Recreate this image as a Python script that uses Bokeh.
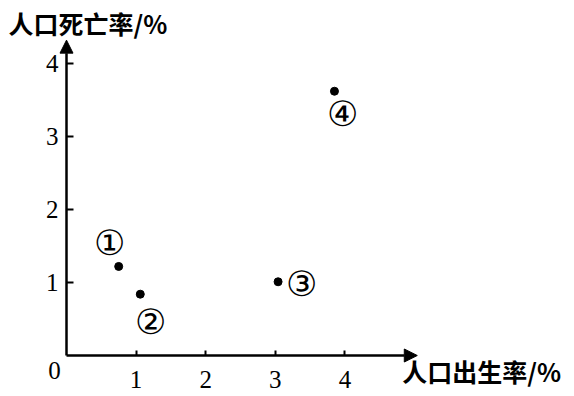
from bokeh.plotting import figure
from bokeh.models import Arrow, NormalHead, Label, LabelSet, ColumnDataSource, FixedTicker
from bokeh.embed import file_html
from bokeh.resources import INLINE

# ---- data ----
birth_rate = [0.75, 1.06, 3.04, 3.85]   # 人口出生率 /%
death_rate = [1.22, 0.84, 1.01, 3.62]   # 人口死亡率 /%
region_marks = ["①", "②", "③", "④"]
x_ticks = [1, 2, 3, 4]
y_ticks = [1, 2, 3, 4]
x_tick_labels = ["1", "2", "3", "4"]
y_tick_labels = ["1", "2", "3", "4"]
origin_label = "0"
x_title = "人口出生率/%"
y_title = "人口死亡率/%"

# ---- layout / style ----
W, H = 574, 396
PX_X, PX_Y = 69.6, 73.0          # pixels per unit
OX, OY = 66, 41                  # origin: px from left, px from bottom
X_TIP, Y_TIP = 5.04, 4.32        # arrow tips (data units)
mark_dx = [-9, 10, 23, 8]
mark_dy = [23, -28, -3, -23]
CJK = "Noto Sans CJK SC"
SERIF = "Liberation Serif"

p = figure(width=W, height=H,
           x_range=(-OX / PX_X, (W - OX) / PX_X),
           y_range=(-OY / PX_Y, (H - OY) / PX_Y),
           output_backend="svg", toolbar_location=None)
p.min_border = 0
p.outline_line_color = None
p.xgrid.visible = False
p.ygrid.visible = False
p.background_fill_color = "white"
p.border_fill_color = "white"

for ax, ticks, labels, tin, stand in ((p.xaxis[0], x_ticks, x_tick_labels, 5, 15),
                                      (p.yaxis[0], y_ticks, y_tick_labels, 7, 8)):
    ax.fixed_location = 0
    ax.ticker = FixedTicker(ticks=ticks)
    ax.major_label_overrides = {t: s for t, s in zip(ticks, labels)}
    ax.axis_line_color = None
    ax.major_tick_in = tin
    ax.major_tick_out = 0
    ax.major_tick_line_width = 2
    ax.major_tick_line_color = "black"
    ax.minor_tick_line_color = None
    ax.major_label_text_font = SERIF
    ax.major_label_text_font_size = "25px"
    ax.major_label_text_color = "black"
    ax.major_label_standoff = stand

# axis arrows
for xe, ye in ((X_TIP, 0), (0, Y_TIP)):
    p.add_layout(Arrow(end=NormalHead(size=13, fill_color="black", line_color="black"),
                       x_start=0, y_start=0, x_end=xe, y_end=ye,
                       line_width=2.5, line_color="black"))

# points
p.scatter(birth_rate, death_rate, size=8, color="black")

# circled region marks
src = ColumnDataSource(dict(x=birth_rate, y=death_rate, t=region_marks,
                            dx=mark_dx, dy=mark_dy))
p.add_layout(LabelSet(x="x", y="y", text="t", source=src, x_offset="dx", y_offset="dy",
                      text_align="center", text_baseline="middle",
                      text_font=CJK, text_font_size="35px", text_color="black"))

# origin label
p.add_layout(Label(x=0, y=0, text=origin_label, x_offset=-12, y_offset=-15,
                   text_align="center", text_baseline="middle",
                   text_font=SERIF, text_font_size="25px", text_color="black"))

# axis titles
p.add_layout(Label(x=0, y=Y_TIP, text=y_title, x_offset=-58, y_offset=17,
                   text_align="left", text_baseline="middle",
                   text_font=CJK, text_font_style="bold", text_font_size="25px",
                   text_color="black"))
p.add_layout(Label(x=X_TIP, y=0, text=x_title, x_offset=-15, y_offset=-15,
                   text_align="left", text_baseline="middle",
                   text_font=CJK, text_font_style="bold", text_font_size="25px",
                   text_color="black"))

open("out.html", "w").write(file_html(p, INLINE))
